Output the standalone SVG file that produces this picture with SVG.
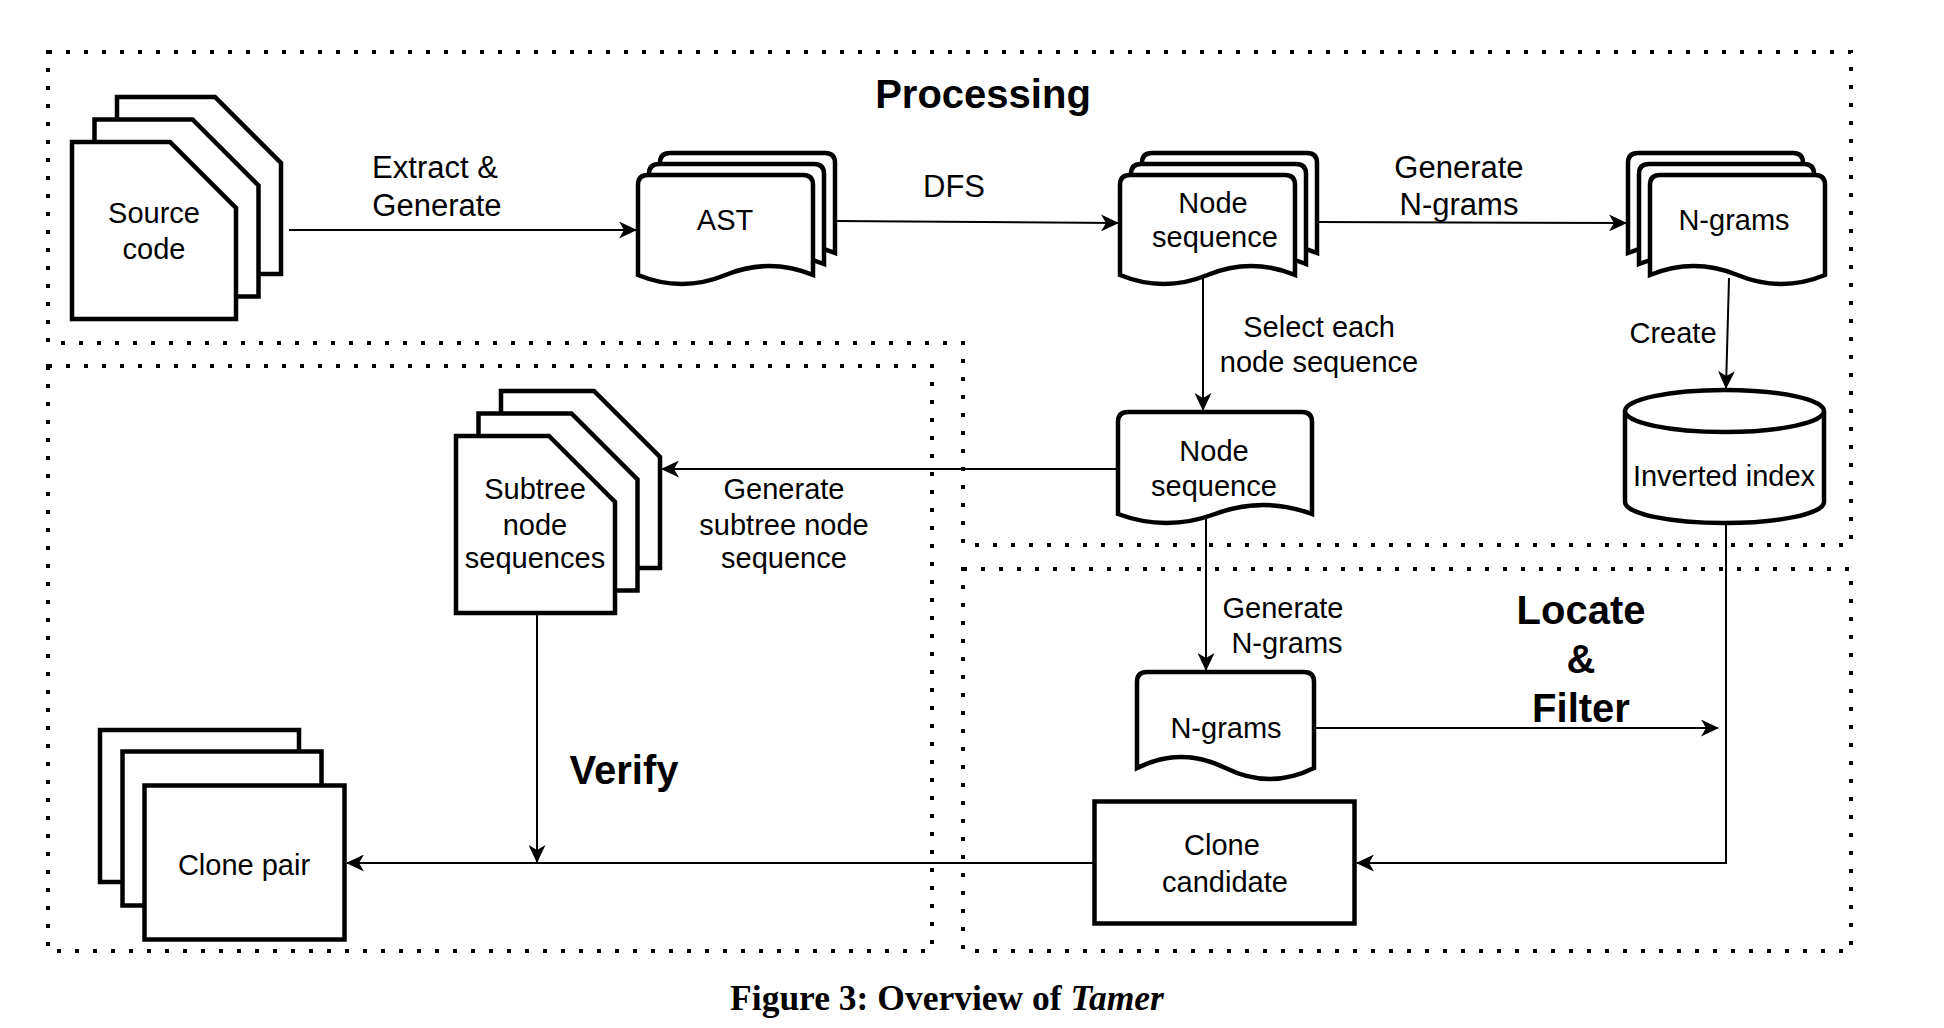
<svg xmlns="http://www.w3.org/2000/svg" width="1944" height="1028" viewBox="0 0 1944 1028">
<defs>
<style>
.dot{fill:none;stroke:#000;stroke-width:4;stroke-dasharray:4 14;}
.n{fill:#fff;stroke:#000;stroke-width:4.5;stroke-linejoin:miter;}
.e{fill:none;stroke:#000;stroke-width:2;marker-end:url(#arr);}
.t{font-family:"Liberation Sans",Arial,Helvetica,sans-serif;font-size:29px;text-anchor:middle;fill:#000;}
.l{font-size:31px;}
.b{font-weight:bold;font-size:40px;}
.cap{font-family:"Liberation Serif","Times New Roman",serif;font-weight:bold;font-size:35.5px;text-anchor:middle;fill:#000;}
</style>
<marker id="arr" markerUnits="userSpaceOnUse" viewBox="0 0 18 17" markerWidth="18" markerHeight="17" refX="17" refY="8.5" orient="auto">
<path d="M0,0 L18,8.5 L0,17 L5,8.5 Z" fill="#000"/>
</marker>
</defs>
<rect width="1944" height="1028" fill="#fff"/>

<g id="regions">
<path class="dot" d="M48,52 H1851 V545 H963 V343 H48 Z"/>
<path class="dot" d="M48,366 H932 V951 H48 Z"/>
<path class="dot" d="M963,569 H1851 V951 H963 Z"/>
<text class="t b" x="983" y="108">Processing</text>
<text class="t b" x="624" y="784">Verify</text>
<text class="t b" x="1581" y="624">Locate</text>
<text class="t b" x="1581" y="673">&amp;</text>
<text class="t b" x="1581" y="722">Filter</text>
</g>

<g id="connectors">
<path class="e" d="M289,230 H636"/>
<path class="e" d="M834,221 L1118,223"/>
<path class="e" d="M1317,222 L1626,223"/>
<path class="e" d="M1203,277 V410"/>
<path class="e" d="M1729,278 L1726,388"/>
<path class="e" d="M1118,469 H662"/>
<path class="e" d="M1206,516 V670"/>
<path class="e" d="M1315,728 H1718"/>
<path class="e" d="M1726,525 V863 H1357"/>
<path class="e" d="M1094,863 H347"/>
<path class="e" d="M537,615 V862"/>
<text class="t l" x="435" y="178">Extract &amp;</text>
<text class="t l" x="437" y="216">Generate</text>
<text class="t l" x="954" y="197">DFS</text>
<text class="t l" x="1459" y="178">Generate</text>
<text class="t l" x="1459" y="215">N-grams</text>
<text class="t" x="1319" y="337">Select each</text>
<text class="t" x="1319" y="372">node sequence</text>
<text class="t" x="1673" y="343">Create</text>
<text class="t" x="784" y="499">Generate</text>
<text class="t" x="784" y="535">subtree node</text>
<text class="t" x="784" y="568">sequence</text>
<text class="t" x="1283" y="618">Generate</text>
<text class="t" x="1287" y="653">N-grams</text>
</g>

<g id="source-code">
<path class="n" d="M117,97 H215 L281,163 V274 H117 Z"/>
<path class="n" d="M94.5,119.5 H192.5 L258.5,185.5 V296.5 H94.5 Z"/>
<path class="n" d="M72,142 H170 L236,208 V319 H72 Z"/>
<text class="t" x="154" y="223">Source</text>
<text class="t" x="154" y="259">code</text>
</g>

<g id="ast">
<path class="n" transform="translate(660,153)" d="M0,10 Q0,0 10,0 H165 Q175,0 175,10 V100 Q131.25,82 87.5,100 Q43.75,118 0,100 Z"/>
<path class="n" transform="translate(649,164)" d="M0,10 Q0,0 10,0 H165 Q175,0 175,10 V100 Q131.25,82 87.5,100 Q43.75,118 0,100 Z"/>
<path class="n" transform="translate(638,175)" d="M0,10 Q0,0 10,0 H165 Q175,0 175,10 V100 Q131.25,82 87.5,100 Q43.75,118 0,100 Z"/>
<text class="t" x="725" y="230">AST</text>
</g>

<g id="node-sequence-top">
<path class="n" transform="translate(1142,153)" d="M0,10 Q0,0 10,0 H165 Q175,0 175,10 V100 Q131.25,82 87.5,100 Q43.75,118 0,100 Z"/>
<path class="n" transform="translate(1131,164)" d="M0,10 Q0,0 10,0 H165 Q175,0 175,10 V100 Q131.25,82 87.5,100 Q43.75,118 0,100 Z"/>
<path class="n" transform="translate(1120,175)" d="M0,10 Q0,0 10,0 H165 Q175,0 175,10 V100 Q131.25,82 87.5,100 Q43.75,118 0,100 Z"/>
<text class="t" x="1213" y="213">Node</text>
<text class="t" x="1215" y="247">sequence</text>
</g>

<g id="ngrams-top">
<path class="n" transform="translate(1628,153)" d="M0,10 Q0,0 10,0 H165 Q175,0 175,10 V100 Q131.25,118 87.5,100 Q43.75,82 0,100 Z"/>
<path class="n" transform="translate(1639,164)" d="M0,10 Q0,0 10,0 H165 Q175,0 175,10 V100 Q131.25,118 87.5,100 Q43.75,82 0,100 Z"/>
<path class="n" transform="translate(1650,175)" d="M0,10 Q0,0 10,0 H165 Q175,0 175,10 V100 Q131.25,118 87.5,100 Q43.75,82 0,100 Z"/>
<text class="t" x="1734" y="230">N-grams</text>
</g>

<g id="inverted-index">
<path class="n" d="M1625,411 A99.5,21 0 0 1 1824,411 V502 A99.5,21 0 0 1 1625,502 Z"/>
<path class="n" fill="none" d="M1625,411 A99.5,21 0 0 0 1824,411"/>
<text class="t" x="1724" y="486">Inverted index</text>
</g>

<g id="node-sequence-mid">
<path class="n" transform="translate(1118,412)" d="M0,10 Q0,0 10,0 H184 Q194,0 194,10 V102 Q145.5,84 97,102 Q48.5,120 0,102 Z"/>
<text class="t" x="1214" y="461">Node</text>
<text class="t" x="1214" y="496">sequence</text>
</g>

<g id="subtree-node-sequences">
<path class="n" d="M501,391 H594 L660,457 V568 H501 Z"/>
<path class="n" d="M478.5,413.5 H571.5 L637.5,479.5 V590.5 H478.5 Z"/>
<path class="n" d="M456,436 H549 L615,502 V613 H456 Z"/>
<text class="t" x="535" y="499">Subtree</text>
<text class="t" x="535" y="535">node</text>
<text class="t" x="535" y="568">sequences</text>
</g>

<g id="ngrams-low">
<path class="n" transform="translate(1137,672)" d="M0,10 Q0,0 10,0 H167 Q177,0 177,10 V96 Q132.75,118 88.5,96 Q44.25,74 0,96 Z"/>
<text class="t" x="1226" y="738">N-grams</text>
</g>

<g id="clone-candidate">
<rect class="n" x="1094.5" y="801.5" width="260" height="122"/>
<text class="t" x="1222" y="855">Clone</text>
<text class="t" x="1225" y="892">candidate</text>
</g>

<g id="clone-pair">
<rect class="n" x="100" y="730" width="199" height="152"/>
<rect class="n" x="122.5" y="751.5" width="199" height="154"/>
<rect class="n" x="144.5" y="785.5" width="200" height="154"/>
<text class="t" x="244" y="875">Clone pair</text>
</g>

<text class="cap" x="947" y="1010">Figure 3: Overview of <tspan font-style="italic">Tamer</tspan></text>
</svg>
